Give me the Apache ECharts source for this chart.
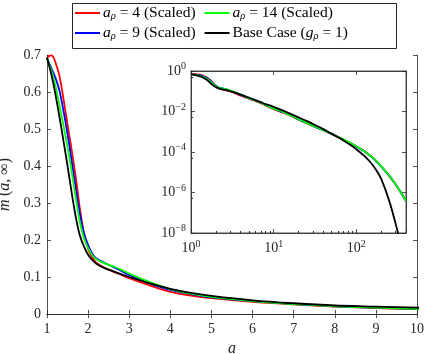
<!DOCTYPE html>
<html>
<head>
<meta charset="utf-8">
<script src="https://cdn.jsdelivr.net/npm/echarts@6/dist/echarts.min.js"></script>
<style>
  html, body { margin: 0; padding: 0; background: #fff; }
  #chart { width: 425px; height: 354px; }
</style>
</head>
<body>
<div id="chart"></div>
<script>
// a values (shared by main plot and log-log inset)
const aVals = [1, 1.05, 1.1, 1.15, 1.2, 1.3, 1.4, 1.5, 1.6, 1.7, 1.8, 1.9, 2.0, 2.1, 2.2, 2.4, 2.6, 2.8, 3, 3.5, 4, 4.5, 5, 6, 7, 8, 9, 10,
  13, 16, 20, 25, 30, 40, 50, 60, 70, 80, 100, 125, 150, 175, 200, 250, 300, 350, 400];

// m(a, inf) per case
const mRed = [0.690, 0.697, 0.699, 0.695, 0.682, 0.645, 0.582, 0.512, 0.443, 0.370, 0.285, 0.218, 0.176, 0.153, 0.139, 0.125, 0.115, 0.106, 0.097, 0.077, 0.060, 0.050, 0.043, 0.033, 0.026, 0.020, 0.016, 0.013,
  8.8e-3, 6.2e-3, 4.0e-3, 2.65e-3, 1.93e-3, 1.17e-3, 7.8e-4, 5.55e-4, 4.12e-4, 3.13e-4, 1.89e-4, 1.09e-4, 6.25e-5, 3.52e-5, 1.98e-5, 6.85e-6, 2.49e-6, 9.5e-7, 3.78e-7];
const mBlue = [0.690, 0.679, 0.666, 0.653, 0.640, 0.605, 0.550, 0.486, 0.414, 0.340, 0.270, 0.218, 0.186, 0.163, 0.150, 0.138, 0.128, 0.117, 0.105, 0.083, 0.065, 0.054, 0.045, 0.035, 0.027, 0.021, 0.017, 0.014,
  9.2e-3, 6.35e-3, 4.1e-3, 2.7e-3, 1.96e-3, 1.18e-3, 7.8e-4, 5.5e-4, 4.1e-4, 3.1e-4, 1.88e-4, 1.08e-4, 6.2e-5, 3.5e-5, 1.97e-5, 6.8e-6, 2.47e-6, 9.4e-7, 3.75e-7];
const mGreen = [0.690, 0.676, 0.660, 0.641, 0.620, 0.566, 0.510, 0.451, 0.385, 0.313, 0.248, 0.205, 0.178, 0.159, 0.148, 0.137, 0.129, 0.120, 0.109, 0.086, 0.067, 0.055, 0.046, 0.035, 0.027, 0.021, 0.017, 0.014,
  9.33e-3, 6.46e-3, 4.17e-3, 2.75e-3, 2.00e-3, 1.20e-3, 7.94e-4, 5.62e-4, 4.17e-4, 3.16e-4, 1.91e-4, 1.10e-4, 6.31e-5, 3.55e-5, 2.00e-5, 6.92e-6, 2.51e-6, 9.55e-7, 3.80e-7];
const mBlack = [0.693, 0.672, 0.650, 0.625, 0.597, 0.535, 0.468, 0.400, 0.328, 0.262, 0.212, 0.182, 0.160, 0.146, 0.136, 0.124, 0.116, 0.108, 0.100, 0.083, 0.068, 0.057, 0.049, 0.037, 0.029, 0.023, 0.020, 0.017,
  1.10e-2, 7.59e-3, 5.13e-3, 3.47e-3, 2.40e-3, 1.35e-3, 8.13e-4, 5.37e-4, 3.72e-4, 2.63e-4, 1.38e-4, 6.46e-5, 2.95e-5, 1.26e-5, 4.79e-6, 3.98e-7, 2.82e-8, 2.0e-9, 1.26e-10];

const seriesNames = ['r4', 'b9', 'g14', 'base'];
const seriesColors = ['#ff0000', '#0000ff', '#00ff00', '#000000'];
const seriesValues = [mRed, mBlue, mGreen, mBlack];
const legendText = {
  r4: '{i|a}{sub|ρ}{t| = 4 (Scaled)}',
  b9: '{i|a}{sub|ρ}{t| = 9 (Scaled)}',
  g14: '{i|a}{sub|ρ}{t| = 14 (Scaled)}',
  base: '{t|Base Case (}{i|g}{sub|ρ}{t| = 1)}'
};

const FONT = 'Liberation Serif';
const AX = '#262626';
const richLegend = {
  t: { fontFamily: FONT, fontSize: 15.5, color: '#000' },
  i: { fontFamily: FONT, fontSize: 15.5, fontStyle: 'italic', color: '#000' },
  sub: { fontFamily: FONT, fontSize: 10.5, fontStyle: 'italic', color: '#000', padding: [7, 0, 0, 0] }
};

function powLabel(v) {
  const e = Math.round(Math.log10(v));
  if (Math.abs(v - Math.pow(10, e)) > 1e-6 * v) return '';
  return '{b|10}{s|' + (e < 0 ? '\u2212' + (-e) : e) + '}';
}
const richPow = {
  b: { fontFamily: FONT, fontSize: 14, color: AX },
  s: { fontFamily: FONT, fontSize: 10, color: AX, padding: [0, 0, 9, 0] }
};

const tickStyle = { show: true, inside: true, length: 4, lineStyle: { color: AX, width: 0.8 } };
const lineStyleAx = { show: true, lineStyle: { color: AX, width: 0.8 } };

function boxAxis(extra) {
  return Object.assign({
    axisLine: lineStyleAx, axisTick: tickStyle, axisLabel: { show: false }, splitLine: { show: false }
  }, extra);
}

const series = [];
seriesNames.forEach((n, k) => {
  const pts = aVals.map((a, j) => [a, seriesValues[k][j]]);
  series.push({
    name: n, type: 'line', xAxisIndex: 0, yAxisIndex: 0, data: pts,
    showSymbol: false, symbol: 'none', smooth: 0.3, clip: true,
    lineStyle: { color: seriesColors[k], width: 1.8 }, itemStyle: { color: seriesColors[k] },
    z: 2 + k
  });
  series.push({
    name: n, type: 'line', xAxisIndex: 2, yAxisIndex: 2, data: pts,
    showSymbol: false, symbol: 'none', smooth: 0.3, clip: true,
    lineStyle: { color: seriesColors[k], width: 1.8 }, itemStyle: { color: seriesColors[k] },
    z: 12 + k
  });
});

const chart = echarts.init(document.getElementById('chart'));
chart.setOption({
  animation: false,
  backgroundColor: '#fff',
  graphic: [{
    type: 'rect', left: 70, top: 1,
    shape: { width: 324, height: 45 },
    style: { fill: 'none', stroke: AX, lineWidth: 1 }, z: 100
  }],
  legend: [
    { data: ['r4', 'g14'], left: 75, top: 5, itemWidth: 25, itemHeight: 2, itemGap: 9, icon: 'rect', padding: 0,
      formatter: n => legendText[n], textStyle: { rich: richLegend, padding: [0, 0, 0, -2] } },
    { data: ['b9', 'base'], left: 75, top: 25, itemWidth: 25, itemHeight: 2, itemGap: 9, icon: 'rect', padding: 0,
      formatter: n => legendText[n], textStyle: { rich: richLegend, padding: [0, 0, 0, -2] } }
  ],
  grid: [
    { left: 47, top: 55, width: 370, height: 259, containLabel: false, outerBoundsMode: 'none' },
    { left: 191, top: 71, width: 215, height: 162, containLabel: false, outerBoundsMode: 'none',
      show: true, backgroundColor: '#fff', borderColor: AX, borderWidth: 0.8, z: 10 }
  ],
  xAxis: [
    { type: 'value', gridIndex: 0, min: 1, max: 10, interval: 1, position: 'bottom',
      axisLine: lineStyleAx, axisTick: tickStyle, splitLine: { show: false },
      axisLabel: { color: AX, fontFamily: FONT, fontSize: 14, margin: 8 },
      name: 'a', nameLocation: 'middle', nameGap: 24,
      nameTextStyle: { fontFamily: FONT, fontSize: 16, fontStyle: 'italic', color: AX } },
    boxAxis({ type: 'value', gridIndex: 0, min: 1, max: 10, interval: 1, position: 'top' }),
    { type: 'log', logBase: 10, gridIndex: 1, min: 1, max: 400, interval: 1, position: 'bottom', z: 11,
      axisLine: lineStyleAx, axisTick: tickStyle, splitLine: { show: false },
      minorTick: { show: true, splitNumber: 9, length: 2, lineStyle: { color: AX } },
      axisLabel: { formatter: powLabel, rich: richPow, margin: 6 } },
    boxAxis({ type: 'log', logBase: 10, gridIndex: 1, min: 1, max: 400, interval: 1, position: 'top', z: 11 })
  ],
  yAxis: [
    { type: 'value', gridIndex: 0, min: 0, max: 0.7, interval: 0.1, position: 'left',
      axisLine: lineStyleAx, axisTick: tickStyle, splitLine: { show: false },
      axisLabel: { color: AX, fontFamily: FONT, fontSize: 14, margin: 6 },
      name: '{i|m} {t|(}{i|a}{t|, ∞)}', nameLocation: 'middle', nameGap: 32, nameRotate: 90,
      nameTextStyle: { rich: {
        i: { fontFamily: FONT, fontSize: 16, fontStyle: 'italic', color: AX },
        t: { fontFamily: FONT, fontSize: 16, color: AX } } } },
    boxAxis({ type: 'value', gridIndex: 0, min: 0, max: 0.7, interval: 0.1, position: 'right' }),
    { type: 'log', logBase: 10, gridIndex: 1, min: 1e-8, max: 1, interval: 2, position: 'left', z: 11,
      axisLine: lineStyleAx, axisTick: tickStyle, splitLine: { show: false },
      minorTick: { show: true, splitNumber: 2, length: 2, lineStyle: { color: AX } },
      axisLabel: { formatter: powLabel, rich: richPow, margin: 5 } },
    boxAxis({ type: 'log', logBase: 10, gridIndex: 1, min: 1e-8, max: 1, interval: 2, position: 'right', z: 11 })
  ],
  series: series
});
</script>
</body>
</html>
